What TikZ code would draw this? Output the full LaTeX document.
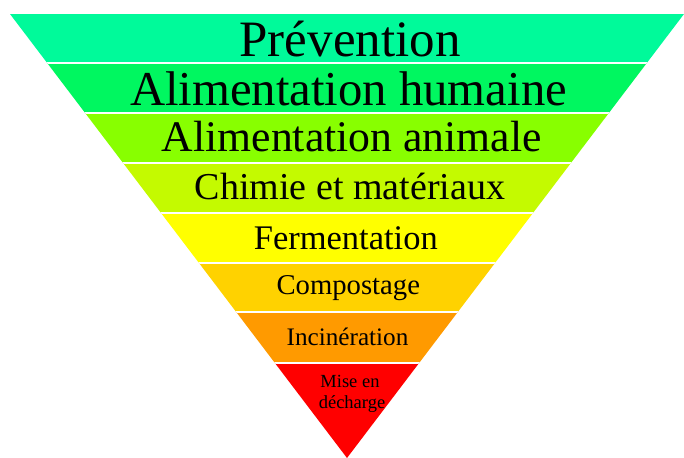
\documentclass[tikz,border=0pt]{standalone}
\usepackage{fontspec}
\setmainfont{Liberation Serif}
\definecolor{cA}{RGB}{0,250,154}
\definecolor{cB}{RGB}{0,247,96}
\definecolor{cC}{RGB}{136,255,0}
\definecolor{cD}{RGB}{196,250,0}
\definecolor{cE}{RGB}{255,255,0}
\definecolor{cF}{RGB}{255,210,0}
\definecolor{cG}{RGB}{255,154,0}
\definecolor{cH}{RGB}{255,0,0}
\tikzset{
  lbl/.style={anchor=base, inner sep=0pt, text=black},
  sep/.style={draw=white, line width=1.6pt},
}
\begin{document}
\begin{tikzpicture}[x=1pt,y=-1pt]
\useasboundingbox (0,0) rectangle (684,457);
\begin{scope}
\clip (10,14) -- (684,14) -- (347,458) -- cycle;
\fill[cA] (0,14) rectangle (684,63);
\fill[cB] (0,63) rectangle (684,113);
\fill[cC] (0,113) rectangle (684,163);
\fill[cD] (0,163) rectangle (684,213);
\fill[cE] (0,213) rectangle (684,263);
\fill[cF] (0,263) rectangle (684,312);
\fill[cG] (0,312) rectangle (684,363);
\fill[cH] (0,363) rectangle (684,460);
\foreach \yy in {63,113,163,213,263,312,363} \draw[sep] (0,\yy) -- (684,\yy);
\end{scope}
\node[lbl, font=\fontsize{51}{51}\selectfont] (t1) at (350,56.7) {Prévention};
\node[lbl, font=\fontsize{48.7}{48.7}\selectfont] (t2) at (348.5,105.7) {Alimentation humaine};
\node[lbl, font=\fontsize{43.7}{43.7}\selectfont] (t3) at (351.7,151.3) {Alimentation animale};
\node[lbl, font=\fontsize{38}{38}\selectfont] (t4) at (350,199.7) {Chimie et matériaux};
\node[lbl, font=\fontsize{34.5}{34.5}\selectfont] (t5) at (345.8,249) {Fermentation};
\node[lbl, font=\fontsize{28.7}{28.7}\selectfont] (t6) at (348.3,294.7) {Compostage};
\node[lbl, font=\fontsize{25.2}{25.2}\selectfont] (t7) at (347.5,345.3) {Incinération};
\node[lbl, font=\fontsize{18.5}{18.5}\selectfont] (t8) at (350,387) {Mise en};
\node[lbl, font=\fontsize{18.5}{18.5}\selectfont] (t9) at (352,408.7) {décharge};
\end{tikzpicture}
\end{document}
